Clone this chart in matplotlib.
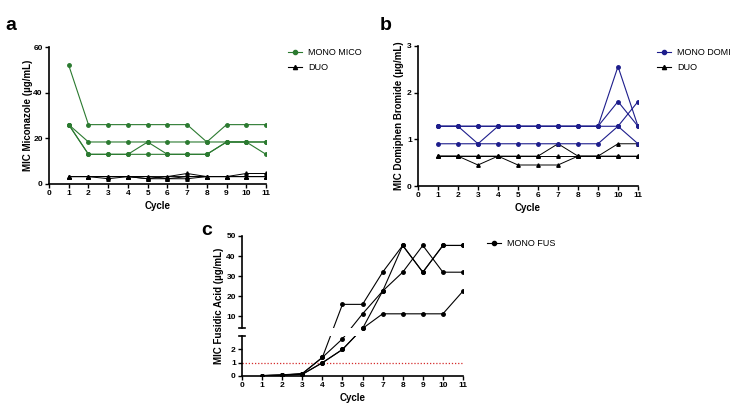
import numpy as np
import matplotlib
matplotlib.use('Agg')
import matplotlib.pyplot as plt
from matplotlib.lines import Line2D

plt.rcParams['font.family'] = ['Liberation Sans', 'DejaVu Sans']

cycles = [1, 2, 3, 4, 5, 6, 7, 8, 9, 10, 11]
x_ticks = list(range(0, 12))

# panel a - miconazole
mico_mono = [
    [52, 26, 26, 26, 26, 26, 26, 18.4, 26, 26, 26],
    [26, 18.4, 18.4, 18.4, 18.4, 18.4, 18.4, 18.4, 18.4, 18.4, 18.4],
    [26, 13, 13, 13, 18.4, 13, 13, 13, 18.4, 18.4, 13],
    [26, 13, 13, 13, 13, 13, 13, 13, 18.4, 18.4, 18.4],
]
mico_duo = [
    [3.25, 3.25, 3.25, 3.25, 3.25, 3.25, 4.6, 3.25, 3.25, 4.6, 4.6],
    [3.25, 3.25, 2.3, 3.25, 2.3, 2.3, 2.3, 3.25, 3.25, 3.25, 3.25],
    [3.25, 3.25, 3.25, 3.25, 2.3, 3.25, 3.25, 3.25, 3.25, 3.25, 3.25],
    [3.25, 3.25, 3.25, 3.25, 3.25, 2.3, 3.25, 3.25, 3.25, 3.25, 3.25],
]

# panel b - domiphen bromide
domi_mono = [
    [1.28, 1.28, 0.905, 1.28, 1.28, 1.28, 1.28, 1.28, 1.28, 2.56, 1.28],
    [1.28, 1.28, 1.28, 1.28, 1.28, 1.28, 1.28, 1.28, 1.28, 1.81, 1.28],
    [0.905, 0.905, 0.905, 0.905, 0.905, 0.905, 0.905, 0.905, 0.905, 1.28, 1.81],
    [1.28, 1.28, 1.28, 1.28, 1.28, 1.28, 1.28, 1.28, 1.28, 1.28, 0.905],
]
domi_duo = [
    [0.64, 0.64, 0.64, 0.64, 0.64, 0.64, 0.64, 0.64, 0.64, 0.64, 0.64],
    [0.64, 0.64, 0.45, 0.64, 0.45, 0.45, 0.45, 0.64, 0.64, 0.905, 0.905],
    [0.64, 0.64, 0.64, 0.64, 0.64, 0.64, 0.905, 0.64, 0.64, 0.64, 0.64],
]

# panel c - fusidic acid
fus_mono = [
    [0.03, 0.06, 0.18, 1.4, 16, 16, 32, 45.3, 32, 45.3, 45.3],
    [0.03, 0.09, 0.18, 1.4, 2.8, 11.3, 22.6, 32, 45.3, 32, 32],
    [0.03, 0.06, 0.125, 1, 2, 4, 22.6, 45.3, 32, 45.3, 45.3],
    [0.03, 0.06, 0.125, 1, 2, 4, 11.3, 11.3, 11.3, 11.3, 22.6],
]
fus_cutoff = 1

green = '#2b7a30'
navy = '#1d1d8c'
W, H = 740, 413

fig = plt.figure(figsize=(W / 100, H / 100), dpi=100)


def rect(l, r, t, b):
    return [l / W, 1 - b / H, (r - l) / W, (b - t) / H]


def style(ax, ylabel, ylab_x, left_spine=True):
    ax.spines['top'].set_visible(False)
    ax.spines['right'].set_visible(False)
    ax.spines['left'].set_visible(left_spine)
    for s in ('left', 'bottom'):
        ax.spines[s].set_linewidth(1.2)
    ax.tick_params(width=1.0, length=3, labelsize=6, pad=1.5)
    ax.set_xlim(0, 11)
    ax.set_xticks(x_ticks)
    for lab in ax.get_xticklabels() + ax.get_yticklabels():
        lab.set_fontweight('bold')
    ax.set_xlabel('Cycle', fontsize=7, fontweight='bold', labelpad=3)
    ax.set_ylabel(ylabel, fontsize=7, fontweight='bold')
    # right edge of the rotated label, in pixels from the figure's left
    l = ax.get_position().x0 * W
    w = ax.get_position().width * W
    ax.yaxis.set_label_coords((ylab_x - l) / w, 0.5)


def legend(ax, items, x, y):
    handles = [Line2D([], [], color=c, marker=m, markersize=3, lw=0.8) for c, m, _ in items]
    ax.legend(handles, [t for _, _, t in items], loc='upper left',
              bbox_to_anchor=(x / W, 1 - y / H), bbox_transform=fig.transFigure,
              frameon=False, fontsize=6.5, handlelength=1.6, handletextpad=0.6,
              labelspacing=0.7, borderpad=0, borderaxespad=0)


# a
ax1 = fig.add_axes(rect(49, 266, 47, 184))
for s in mico_duo:
    ax1.plot(cycles, s, color='black', marker='^', markersize=2.5, lw=0.7)
for s in mico_mono:
    ax1.plot(cycles, s, color=green, marker='o', markersize=2.5, lw=0.8)
ax1.set_ylim(0, 60)
ax1.set_yticks([0, 20, 40, 60])
style(ax1, 'MIC Miconazole (µg/mL)', 33)
legend(ax1, [(green, 'o', 'MONO MICO'), ('black', '^', 'DUO')], 288, 48)

# b
ax2 = fig.add_axes(rect(418, 638, 46, 186))
for s in domi_duo:
    ax2.plot(cycles, s, color='black', marker='^', markersize=2.5, lw=0.7)
for s in domi_mono:
    ax2.plot(cycles, s, color=navy, marker='o', markersize=2.5, lw=0.8)
ax2.set_ylim(0, 3)
ax2.set_yticks([0, 1, 2, 3])
style(ax2, 'MIC Domiphen Bromide (µg/mL)', 403.5)
legend(ax2, [(navy, 'o', 'MONO DOMI'), ('black', '^', 'DUO')], 657, 48)

# c - broken y axis drawn on a piecewise scale
ax3 = fig.add_axes(rect(242, 463, 236, 376))
xp = [-100, 0, 3, 4, 50, 500]
fp = [-100 * 39.7 / 3, 0, 39.7, 47.4, 139.7, 139.7 + 450 * 92.3 / 46]


def fwd(v):
    return np.interp(v, xp, fp)


def inv(v):
    return np.interp(v, fp, xp)


ax3.set_yscale('function', functions=(fwd, inv))
for s in fus_mono:
    ax3.plot(cycles, s, color='black', lw=0.8, zorder=2)
ax3.axhspan(3, 4, color='white', zorder=2.5, lw=0)
for s in fus_mono:
    ax3.plot(cycles, s, color='black', marker='o', markersize=2.5, lw=0, zorder=3)
ax3.axhline(fus_cutoff, color='#d42a2a', lw=0.9, linestyle=(0, (1, 1.5)), zorder=1)
ax3.set_ylim(0, 50)
ax3.set_yticks([0, 1, 2, 10, 20, 30, 40, 50])
style(ax3, 'MIC Fusidic Acid (µg/mL)', 223.5, left_spine=False)
yt = ax3.get_yaxis_transform()
for lo, hi in [(0, 3), (4, 50)]:
    ax3.plot([0, 0], [lo, hi], color='black', lw=1.2, transform=yt, clip_on=False, zorder=4)
for yv in (3, 4):
    ax3.plot([-0.015, 0.015], [yv, yv], color='black', lw=1.2, transform=yt, clip_on=False, zorder=4)
legend(ax3, [('black', 'o', 'MONO FUS')], 487, 239)

fig.text(5 / W, 1 - 26 / H, 'a', fontsize=14, fontweight='bold', va='center')
fig.text(380 / W, 1 - 26 / H, 'b', fontsize=14, fontweight='bold', va='center')
fig.text(201 / W, 1 - 230 / H, 'c', fontsize=14, fontweight='bold', va='center')

fig.savefig('out.png', dpi=100)
